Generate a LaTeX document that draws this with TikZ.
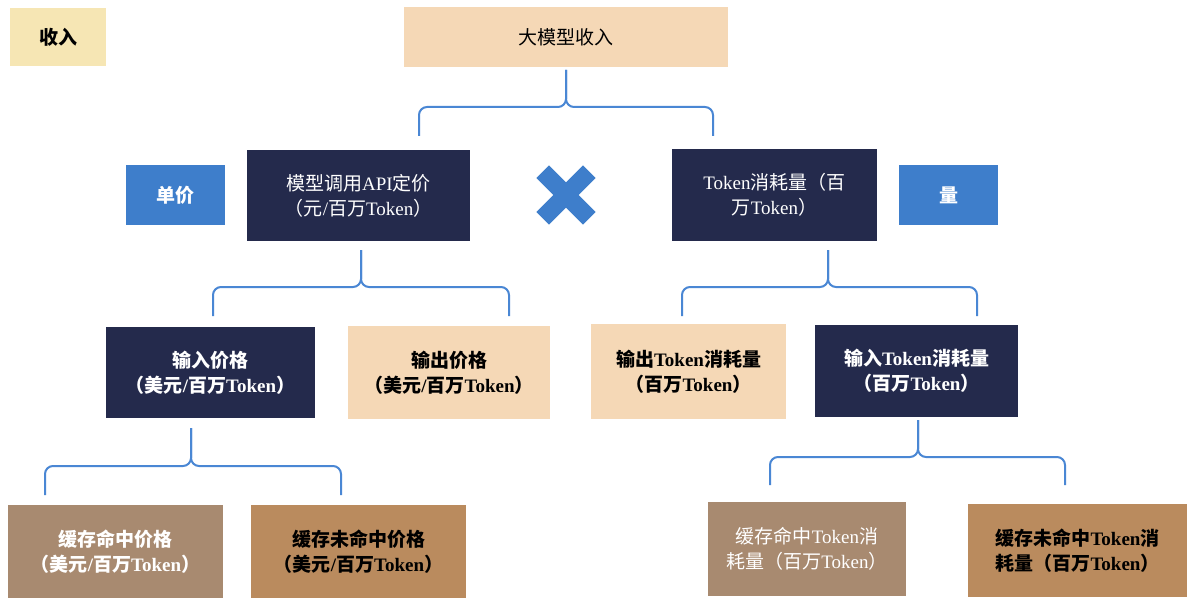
\documentclass[tikz,border=0pt]{standalone}
\usepackage{fontspec}
\setmainfont{Liberation Serif}
\newfontfamily\cjk{Noto Sans CJK SC}
\newcommand\zh[1]{{\cjk #1}}
\usetikzlibrary{calc}
\definecolor{navy}{HTML}{242A4C}
\definecolor{peach}{HTML}{F5D8B6}
\definecolor{pale}{HTML}{F6E6B4}
\definecolor{bblue}{HTML}{3E7ECB}
\definecolor{lineblue}{HTML}{4A87D4}
\definecolor{brownA}{HTML}{A88A70}
\definecolor{brownB}{HTML}{BA8B5E}
\begin{document}
\begin{tikzpicture}[x=1pt,y=-1pt,
  box/.style={rectangle, inner sep=0pt, align=center, font=\fontsize{19}{25}\selectfont},
  boldbox/.style={box, font=\fontsize{19}{25}\selectfont\bfseries},
  darkbox/.style={box, fill=navy, text=white},
  peachbox/.style={box, fill=peach, text=black},
  bluebox/.style={boldbox, fill=bblue, text=white},
  hitbox/.style={box, fill=brownA, text=white},
  missbox/.style={box, fill=brownB, text=black},
  brace/.style={draw=lineblue, line width=2pt, rounded corners=8pt}]
\useasboundingbox (0,0) rectangle (1187,599);
\fill[white] (0,0) rectangle (1187,599);

% top row
\node[boldbox, fill=pale, minimum width=96pt, minimum height=58pt] (shouru) at (58,37) {\zh{收入}};
\node[peachbox, minimum width=324pt, minimum height=60pt] (top) at (566,37) {\zh{大模型收入}};

% second row
\node[bluebox, minimum width=99pt, minimum height=60pt] (danjia) at (175.5,195) {\zh{单价}};
\node[darkbox, minimum width=223pt, minimum height=91pt] (api) at (358.5,195.5) {\zh{模型调用}API\zh{定价}\\\zh{（元}/\zh{百万}Token\zh{）}};
\node[darkbox, minimum width=205pt, minimum height=92pt] (token) at (774.5,195) {Token\zh{消耗量（百}\\\zh{万}Token\zh{）}};
\node[bluebox, minimum width=99pt, minimum height=60pt] (liang) at (948.5,195) {\zh{量}};

% cross
\begin{scope}[shift={(566,195)}, rotate=45]
\fill[bblue] (-9,-33) -- (9,-33) -- (9,-9) -- (33,-9) -- (33,9) -- (9,9) -- (9,33) -- (-9,33) -- (-9,9) -- (-33,9) -- (-33,-9) -- (-9,-9) -- cycle;
\end{scope}

% third row
\node[darkbox, boldbox, fill=navy, text=white, minimum width=209pt, minimum height=91pt] (inprice) at (210.5,372.5) {\zh{输入价格}\\\zh{（美元}/\zh{百万}Token\zh{）}};
\node[peachbox, boldbox, fill=peach, text=black, minimum width=202pt, minimum height=93pt] (outprice) at (449,372.5) {\zh{输出价格}\\\zh{（美元}/\zh{百万}Token\zh{）}};
\node[peachbox, boldbox, fill=peach, text=black, minimum width=195pt, minimum height=95pt] (outtoken) at (688.5,371.5) {\zh{输出}Token\zh{消耗量}\\\zh{（百万}Token\zh{）}};
\node[darkbox, boldbox, fill=navy, text=white, minimum width=203pt, minimum height=92pt] (intoken) at (916.5,371) {\zh{输入}Token\zh{消耗量}\\\zh{（百万}Token\zh{）}};

% bottom row
\node[hitbox, boldbox, fill=brownA, text=white, minimum width=215pt, minimum height=93pt] (hitprice) at (115.5,551.5) {\zh{缓存命中价格}\\\zh{（美元}/\zh{百万}Token\zh{）}};
\node[missbox, boldbox, fill=brownB, text=black, minimum width=215pt, minimum height=93pt] (missprice) at (358.5,551.5) {\zh{缓存未命中价格}\\\zh{（美元}/\zh{百万}Token\zh{）}};
\node[hitbox, minimum width=198pt, minimum height=94pt] (hittoken) at (807,549) {\zh{缓存命中}Token\zh{消}\\\zh{耗量（百万}Token\zh{）}};
\node[missbox, boldbox, fill=brownB, text=black, minimum width=219pt, minimum height=93pt] (misstoken) at (1077.5,550.5) {\zh{缓存未命中}Token\zh{消}\\\zh{耗量（百万}Token\zh{）}};

% brace coordinates
\coordinate (b1t) at (566,70);  \coordinate (b1m) at (566,107);
\coordinate (b1l) at (419,136); \coordinate (b1r) at (713,136);
\coordinate (b2t) at (361,250); \coordinate (b2m) at (361,287);
\coordinate (b2l) at (213,316); \coordinate (b2r) at (509,316);
\coordinate (b3t) at (828,250); \coordinate (b3m) at (828,287);
\coordinate (b3l) at (682,316); \coordinate (b3r) at (977,316);
\coordinate (b4t) at (191,428); \coordinate (b4m) at (191,466);
\coordinate (b4l) at (45,495);  \coordinate (b4r) at (341,495);
\coordinate (b5t) at (918,420); \coordinate (b5m) at (918,457);
\coordinate (b5l) at (770,485); \coordinate (b5r) at (1065,485);

\foreach \b in {b1,b2,b3,b4,b5}{
  \draw[brace] (\b l) |- (\b m) -- (\b t);
  \draw[brace] (\b r) |- (\b m) -- (\b t);
}
\end{tikzpicture}
\end{document}
